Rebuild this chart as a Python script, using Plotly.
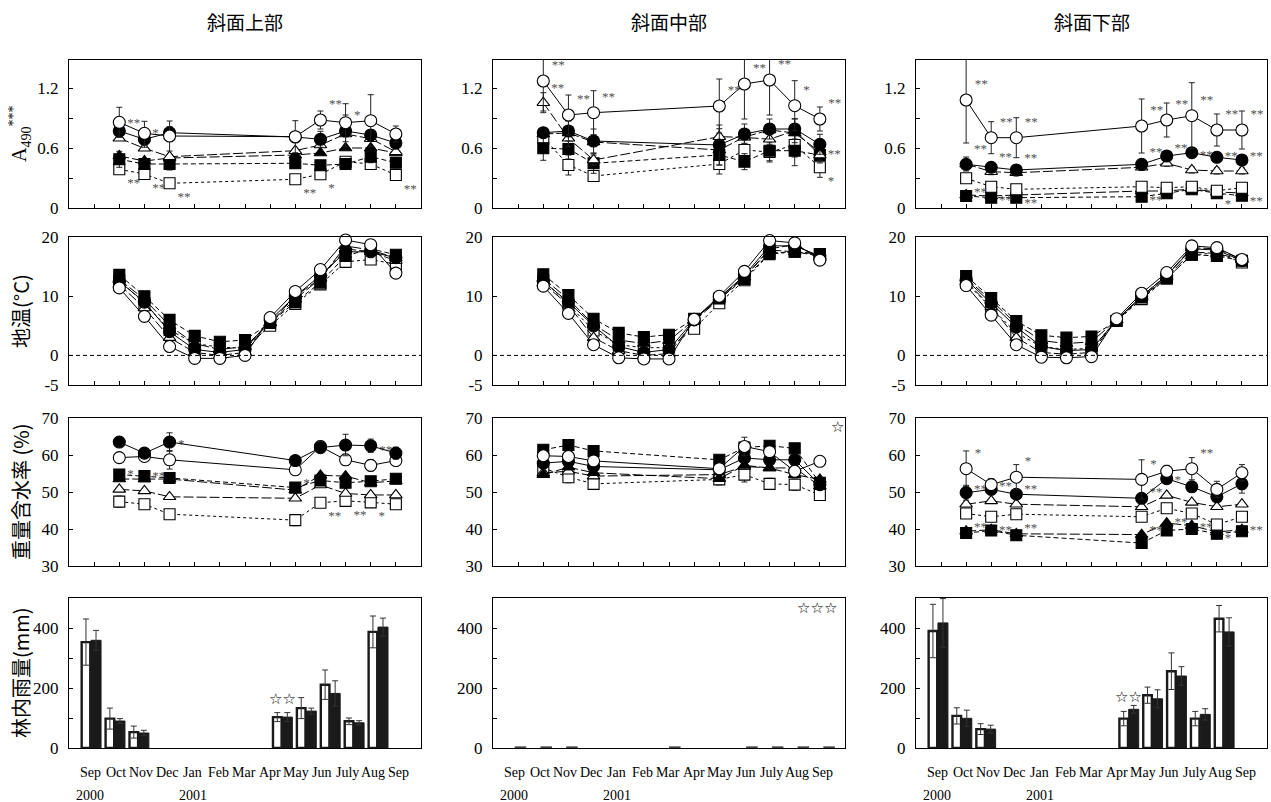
import plotly.graph_objects as go

# ---------------------------------------------------------------- data
COL_TITLES = ["斜面上部", "斜面中部", "斜面下部"]
ROW_TITLES = ["A<sub>490</sub><sup>***</sup>", "地温(°C)", "重量含水率 (%)", "林内雨量(mm)"]
SAMPLE_MONTHS = ["Sep", "Oct", "Nov", "Apr", "May", "Jun", "Jul", "Aug"]
TEMP_MONTHS = ["Sep", "Oct", "Nov", "Dec", "Jan", "Feb", "Mar", "Apr", "May", "Jun", "Jul", "Aug"]
AXIS_MONTHS = ["Sep", "Oct", "Nov", "Dec", "Jan", "Feb", "Mar", "Apr", "May", "Jun", "July", "Aug", "Sep"]
YEAR_LABELS = ["2000", "2001"]

# series keys: oc open circle, fc filled circle, ot open triangle,
#              ft filled triangle, os open square, fs filled square
# --- A490
a490_upper = {
    "os": [0.387, 0.34, 0.247, 0.287, 0.337, 0.463, 0.44, 0.33],
    "fs": [0.487, 0.44, 0.44, 0.447, 0.427, 0.44, 0.513, 0.453],
    "ft": [0.52, 0.47, 0.50, 0.53, 0.55, 0.60, 0.60, 0.55],
    "ot": [0.697, 0.597, 0.513, 0.573, 0.63, 0.74, 0.693, 0.563],
    "fc": [0.77, 0.687, 0.753, 0.71, 0.687, 0.77, 0.73, 0.65],
    "oc": [0.857, 0.747, 0.72, 0.713, 0.88, 0.853, 0.873, 0.74],
}
a490_upper_err = {
    "oc": [0.15, 0.12, 0.15, 0.16, 0.09, 0.19, 0.26, 0.08],
    "fc": [0.06, 0.08, 0.06, 0.05, 0.08, 0.16, 0.05, 0.06],
    "fs": [0.08, 0.05, 0.06, 0.04, 0.04, 0.04, 0.06, 0.05],
}
a490_upper_sig = {
    "oc": ["", "", "", "", "**", "", "", ""],
    "fc": ["", "", "", "", "", "*", "", ""],
    "ot": ["**", "*", "", "", "", "", "", ""],
    "os": ["**", "**", "**", "**", "*", "", "", "**"],
}
a490_middle = {
    "os": [0.703, 0.43, 0.32, 0.44, 0.58, 0.56, 0.63, 0.407],
    "fs": [0.597, 0.59, 0.447, 0.53, 0.463, 0.573, 0.573, 0.53],
    "ft": [0.74, 0.75, 0.66, 0.58, 0.71, 0.78, 0.75, 0.56],
    "ot": [1.053, 0.697, 0.48, 0.713, 0.707, 0.687, 0.773, 0.53],
    "fc": [0.753, 0.77, 0.67, 0.63, 0.74, 0.79, 0.79, 0.637],
    "oc": [1.27, 0.93, 0.953, 1.02, 1.24, 1.28, 1.023, 0.89],
}
a490_middle_err = {
    "oc": [0.30, 0.20, 0.22, 0.27, 0.35, 0.35, 0.25, 0.12],
    "ot": [0.10, 0.08, 0.05, 0.08, 0.06, 0.05, 0.12, 0.06],
    "fc": [0.05, 0.10, 0.12, 0.20, 0.10, 0.10, 0.10, 0.10],
    "fs": [0.12, 0.10, 0.10, 0.10, 0.08, 0.10, 0.15, 0.08],
    "os": [0.10, 0.10, 0.05, 0.10, 0.12, 0.10, 0.12, 0.10],
}
a490_middle_sig = {
    "oc": ["**", "**", "**", "**", "**", "**", "*", "**"],
    "ot": ["**", "", "", "", "", "", "", ""],
    "fs": ["", "", "", "", "", "", "", "**"],
    "os": ["", "", "", "", "", "", "", "*"],
}
a490_lower = {
    "fs": [0.12, 0.103, 0.103, 0.113, 0.147, 0.187, 0.147, 0.123],
    "ft": [0.13, 0.12, 0.13, 0.17, 0.17, 0.19, 0.16, 0.15],
    "os": [0.297, 0.213, 0.187, 0.213, 0.203, 0.213, 0.173, 0.203],
    "ot": [0.44, 0.363, 0.353, 0.407, 0.447, 0.38, 0.37, 0.37],
    "fc": [0.437, 0.407, 0.38, 0.437, 0.52, 0.553, 0.507, 0.48],
    "oc": [1.08, 0.703, 0.703, 0.82, 0.88, 0.923, 0.78, 0.78],
}
a490_lower_err = {
    "oc": [0.43, 0.16, 0.20, 0.27, 0.17, 0.33, 0.16, 0.19],
    "ot": [0.07, 0.03, 0.03, 0.03, 0.03, 0.03, 0.03, 0.03],
}
a490_lower_sig = {
    "oc": ["**", "**", "**", "**", "**", "**", "**", "**"],
    "ot": ["**", "**", "**", "**", "**", "**", "**", "**"],
    "os": ["**", "**", "**", "**", "", "", "*", "**"],
}

# --- soil temperature (°C), monthly Sep 2000 - Aug 2001
temp_upper = {
    "os": [12.7, 8.8, 4.3, 2.0, 1.4, 1.2, 5.0, 8.7, 12.0, 15.8, 16.2, 15.4],
    "ot": [12.0, 8.0, 3.0, 0.5, 0.0, 0.5, 5.5, 10.0, 13.0, 18.0, 17.5, 16.0],
    "fs": [13.6, 10.0, 6.0, 3.3, 2.3, 2.6, 5.5, 9.0, 12.3, 16.8, 18.0, 17.0],
    "ft": [12.8, 9.5, 5.0, 2.0, 1.0, 1.5, 5.5, 9.5, 13.0, 18.5, 17.8, 16.5],
    "fc": [12.5, 9.0, 4.0, 1.0, 0.5, 1.0, 6.0, 10.0, 13.5, 17.5, 17.5, 16.5],
    "oc": [11.4, 6.6, 1.5, -0.5, -0.5, 0.0, 6.4, 10.8, 14.5, 19.5, 18.7, 13.9],
}
temp_middle = {
    "os": [12.7, 8.6, 4.2, 1.8, 1.3, 1.3, 4.5, 8.8, 12.7, 17.1, 17.5, 17.1],
    "ot": [12.2, 8.5, 3.0, 0.8, 0.0, 0.3, 5.8, 9.5, 13.2, 18.0, 18.7, 16.5],
    "fs": [13.7, 10.2, 6.2, 3.8, 3.1, 3.5, 6.2, 9.6, 12.9, 17.3, 17.5, 17.1],
    "ft": [13.0, 9.5, 5.2, 2.6, 2.0, 2.5, 6.0, 9.8, 13.2, 17.8, 17.5, 16.8],
    "fc": [12.5, 9.0, 5.0, 1.5, 0.5, 1.0, 6.0, 9.8, 13.5, 18.5, 18.5, 16.8],
    "oc": [11.7, 7.1, 1.8, -0.4, -0.6, -0.6, 6.1, 10.0, 14.2, 19.4, 19.0, 16.1],
}
temp_lower = {
    "os": [12.3, 8.0, 3.8, 1.5, 1.0, 1.2, 5.8, 9.5, 13.0, 17.0, 17.3, 15.7],
    "ot": [12.5, 8.2, 3.0, 0.5, 0.2, 0.5, 6.0, 10.0, 13.5, 18.2, 18.0, 16.2],
    "fs": [13.4, 9.7, 5.8, 3.4, 3.0, 3.2, 5.8, 9.8, 13.0, 17.0, 16.8, 16.0],
    "ft": [13.0, 9.3, 5.3, 2.5, 2.0, 2.3, 6.0, 9.8, 13.2, 17.5, 17.2, 16.2],
    "fc": [12.8, 8.8, 4.8, 1.5, 0.8, 1.0, 6.0, 10.0, 13.5, 18.0, 17.8, 16.0],
    "oc": [11.8, 6.8, 1.8, -0.3, -0.4, -0.2, 6.2, 10.5, 14.0, 18.5, 18.2, 16.2],
}

# --- gravimetric water content (%)
water_upper = {
    "os": [47.4, 46.7, 44.0, 42.4, 47.1, 47.6, 47.2, 46.7],
    "ot": [50.7, 50.3, 48.7, 48.3, 51.9, 49.6, 49.2, 49.2],
    "ft": [53.5, 53.5, 53.5, 50.5, 54.5, 54.3, 52.5, 53.0],
    "fs": [54.7, 54.3, 53.8, 51.2, 53.1, 52.5, 52.9, 53.6],
    "oc": [59.3, 59.6, 58.7, 56.0, 62.3, 58.7, 57.2, 58.5],
    "fc": [63.5, 60.5, 63.5, 58.5, 62.0, 62.7, 62.5, 60.5],
}
water_upper_err = {
    "os": [1.5, 1.0, 1.0, 1.5, 1.0, 1.0, 1.0, 1.0],
    "oc": [1.0, 1.0, 2.5, 1.0, 1.5, 1.5, 1.5, 1.0],
    "fc": [0.5, 1.0, 2.5, 0.5, 1.0, 2.9, 1.8, 1.6],
}
water_upper_sig = {
    "oc": ["", "", "*", "", "", "", "**", ""],
    "ot": ["*", "**", "", "*", "", "", "", ""],
    "os": ["", "", "", "", "**", "**", "*", ""],
}
water_middle = {
    "os": [56.5, 54.0, 52.2, 53.4, 54.7, 52.2, 52.0, 49.2],
    "ot": [55.2, 55.6, 54.3, 54.7, 56.9, 56.5, 56.5, 51.6],
    "ft": [54.7, 56.7, 55.2, 53.6, 57.2, 56.5, 54.7, 53.4],
    "fc": [57.8, 58.3, 56.9, 56.0, 59.2, 58.7, 58.7, 52.0],
    "fs": [61.4, 62.7, 61.1, 58.7, 62.0, 62.5, 61.8, 52.5],
    "oc": [59.8, 59.6, 58.4, 56.3, 62.3, 60.9, 55.6, 58.3],
}
water_middle_err = {
    "os": [1.2, 1.5, 1.5, 1.5, 2.0, 1.5, 1.5, 1.5],
    "oc": [0.5, 0.5, 0.5, 0.5, 2.5, 0.5, 0.5, 0.5],
}
water_lower = {
    "fs": [38.9, 39.6, 38.3, 36.2, 39.6, 40.0, 38.7, 39.4],
    "ft": [39.4, 39.8, 38.7, 38.5, 41.6, 40.9, 39.2, 39.8],
    "os": [44.2, 43.3, 44.0, 43.3, 45.6, 44.2, 41.2, 43.3],
    "ot": [46.7, 47.6, 46.7, 46.0, 49.1, 47.2, 46.0, 46.7],
    "fc": [49.8, 50.7, 49.4, 48.3, 53.6, 51.4, 48.7, 52.2],
    "oc": [56.3, 52.0, 54.0, 53.4, 55.6, 56.3, 50.7, 55.2],
}
water_lower_err = {
    "oc": [4.8, 1.6, 3.4, 5.3, 1.6, 3.0, 2.2, 2.2],
    "fc": [2.0, 1.0, 1.0, 1.0, 1.0, 1.0, 1.0, 2.5],
}
water_lower_sig = {
    "oc": ["*", "", "*", "*", "", "**", "", ""],
    "ot": ["**", "**", "**", "**", "*", "", "", ""],
    "os": ["**", "**", "**", "**", "**", "**", "*", "**"],
}

# --- throughfall (mm): open bars / filled bars
rain_upper_open = [353, 98, 53, 103, 133, 211, 89, 387]
rain_upper_open_err = [77, 35, 20, 15, 35, 49, 11, 53]
rain_upper_filled = [359, 90, 50, 103, 123, 182, 84, 403]
rain_upper_filled_err = [33, 8, 9, 15, 10, 42, 7, 30]
rain_lower_open = [390, 107, 63, 98, 176, 256, 98, 431]
rain_lower_open_err = [89, 27, 18, 24, 27, 61, 24, 44]
rain_lower_filled = [417, 99, 63, 129, 164, 240, 112, 387]
rain_lower_filled_err = [81, 27, 13, 13, 30, 31, 19, 47]
rain_middle_months = ["Sep", "Oct", "Nov", "Mar", "Jun", "July", "Aug", "Sep"]
rain_middle_values = [3, 3, 3, 3, 3, 3, 3, 3]

# ---------------------------------------------------------------- layout helpers
W, H = 1271, 802
COL_PX = [(69, 421), (493, 845), (916, 1267)]
ROW_PX = [(60, 208), (237, 385), (418, 566), (598, 748)]
CJK = "Noto Sans CJK JP"
SERIF = "Liberation Serif"
SIG_FONT = dict(family=SERIF, size=13, color="#505050")

STYLE = {
    "oc": dict(symbol="circle", color="white", size=12, dash="solid", pos="top right"),
    "fc": dict(symbol="circle", color="black", size=12, dash="solid", pos="top right"),
    "ot": dict(symbol="triangle-up", color="white", size=11, dash="10px,3px", pos="top right"),
    "ft": dict(symbol="triangle-up", color="black", size=11, dash="10px,3px", pos="middle right"),
    "os": dict(symbol="square", color="white", size=11, dash="3px,3px", pos="bottom right"),
    "fs": dict(symbol="square", color="black", size=11, dash="5px,3px", pos="middle right"),
}


def line_pos(month):
    # tick index on the 0..14 month axis (Sep 2000 sits on tick 2)
    return TEMP_MONTHS.index(month) + 2


def rain_slot(month):
    i = TEMP_MONTHS.index(month)
    return i + (1 if i >= 7 else 0)


def ax_id(n):
    return ("x" if n == 1 else f"x{n}"), ("y" if n == 1 else f"y{n}")


fig = go.Figure()

line_panels = [
    [(a490_upper, a490_upper_err, a490_upper_sig),
     (a490_middle, a490_middle_err, a490_middle_sig),
     (a490_lower, a490_lower_err, a490_lower_sig)],
    [(temp_upper, {}, {}), (temp_middle, {}, {}), (temp_lower, {}, {})],
    [(water_upper, water_upper_err, water_upper_sig),
     (water_middle, water_middle_err, {}),
     (water_lower, water_lower_err, water_lower_sig)],
]

for r, row in enumerate(line_panels):
    months = TEMP_MONTHS if r == 1 else SAMPLE_MONTHS
    xs = [line_pos(m) for m in months]
    for c, (vals, errs, sigs) in enumerate(row):
        xa, ya = ax_id(r * 3 + c + 1)
        for key, ys in vals.items():
            st = STYLE[key]
            sig = sigs.get(key)
            kw = {}
            if sig:
                kw = dict(text=sig, textposition=st["pos"], textfont=SIG_FONT)
            if key in errs:
                kw["error_y"] = dict(type="data", array=errs[key], visible=True,
                                     color="#222", thickness=1, width=3)
            fig.add_trace(go.Scatter(
                x=xs, y=ys, xaxis=xa, yaxis=ya,
                mode="lines+markers+text" if sig else "lines+markers",
                line=dict(color="black", width=1, dash=st["dash"]),
                marker=dict(symbol=st["symbol"], size=st["size"], color=st["color"],
                            line=dict(color="black", width=1.1)),
                showlegend=False, hoverinfo="skip", cliponaxis=False, **kw,
            ))

# throughfall bars
rain_sets = {0: (rain_upper_open, rain_upper_open_err, rain_upper_filled, rain_upper_filled_err),
             2: (rain_lower_open, rain_lower_open_err, rain_lower_filled, rain_lower_filled_err)}
slots = [rain_slot(m) for m in SAMPLE_MONTHS]
for c, (ov, oe, fv, fe) in rain_sets.items():
    xa, ya = ax_id(9 + c + 1)
    fig.add_trace(go.Bar(x=slots, y=ov, xaxis=xa, yaxis=ya, width=0.36, offset=-0.39,
                         marker=dict(color="white", line=dict(color="#1a1a1a", width=2.4)),
                         error_y=dict(type="data", array=oe, color="#333", thickness=1, width=3),
                         showlegend=False, hoverinfo="skip"))
    fig.add_trace(go.Bar(x=slots, y=fv, xaxis=xa, yaxis=ya, width=0.42, offset=0.0,
                         marker=dict(color="#1a1a1a", line=dict(color="#1a1a1a", width=1)),
                         error_y=dict(type="data", array=fe, color="#333", thickness=1, width=3),
                         showlegend=False, hoverinfo="skip"))

# middle column: only near-zero records; placed under their month labels
LBL_OFF, LBL_STEP, SLOT0, SLOT_W = 21.0, 25.7, 23.0, 23.9
used = []
mid_x = []
for m in rain_middle_months:
    idx = [i for i, a in enumerate(AXIS_MONTHS) if a == m and i not in used][0]
    used.append(idx)
    mid_x.append((LBL_OFF + LBL_STEP * idx + 7.5 - SLOT0) / SLOT_W)
xa, ya = ax_id(11)
fig.add_trace(go.Bar(x=mid_x, y=rain_middle_values, xaxis=xa, yaxis=ya, width=0.42,
                     marker=dict(color="#444", line=dict(color="#444", width=1.5)),
                     showlegend=False, hoverinfo="skip"))

# ---------------------------------------------------------------- axes
layout = dict(
    template="none",
    width=W, height=H, margin=dict(l=0, r=0, t=0, b=0, pad=0), autosize=False,
    paper_bgcolor="white", plot_bgcolor="white", showlegend=False, barmode="overlay",
    font=dict(family=SERIF, size=17, color="black"),
)
Y_SPECS = [
    dict(range=[0, 1.48], tickvals=[0, 0.6, 1.2], ticktext=["0", "0.6", "1.2"], minor_vals=[0.3, 0.9]),
    dict(range=[-5, 20], tickvals=[-5, 0, 10, 20], ticktext=["-5", "0", "10", "20"], minor_vals=[]),
    dict(range=[30, 70], tickvals=[30, 40, 50, 60, 70], ticktext=["30", "40", "50", "60", "70"],
         minor_vals=[]),
    dict(range=[0, 500], tickvals=[0, 200, 400], ticktext=["0", "200", "400"], minor_vals=[100, 300]),
]
for r in range(4):
    for c in range(3):
        n = r * 3 + c + 1
        xa, ya = ax_id(n)
        xname = "xaxis" if n == 1 else f"xaxis{n}"
        yname = "yaxis" if n == 1 else f"yaxis{n}"
        x0, x1 = COL_PX[c]
        y0, y1 = ROW_PX[r]
        xd = [x0 / W, x1 / W]
        yd = [1 - y1 / H, 1 - y0 / H]
        common = dict(showline=True, linecolor="black", linewidth=1, mirror=True,
                      showgrid=False, zeroline=False, fixedrange=True, automargin=False)
        if r < 3:
            layout[xname] = dict(domain=xd, anchor=ya, range=[0, 14], tickvals=list(range(1, 14)),
                                 ticks="inside", ticklen=4, tickcolor="black",
                                 showticklabels=False, **common)
        else:
            layout[xname] = dict(domain=xd, anchor=ya, range=[-0.92, 13.8], ticks="",
                                 showticklabels=False, **common)
        spec = dict(Y_SPECS[r])
        mv = spec.pop("minor_vals")
        yax = dict(domain=yd, anchor=xa, ticks="inside", ticklen=4, tickcolor="black",
                   ticklabelstandoff=6, tickfont=dict(family=SERIF, size=17),
                   tickmode="array", **spec, **common)
        if mv:
            yax["minor"] = dict(tickmode="array", tickvals=mv, ticks="inside", ticklen=4,
                                tickcolor="black", showgrid=False)
        layout[yname] = yax

fig.update_layout(**layout)

# zero line in temperature panels
for c in range(3):
    xa, ya = ax_id(3 + c + 1)
    fig.add_shape(type="line", xref=f"{xa} domain", yref=ya, x0=0, x1=1, y0=0, y1=0,
                  line=dict(color="black", width=1, dash="4px,3px"))

# ---------------------------------------------------------------- text
for c, t in enumerate(COL_TITLES):
    x0, x1 = COL_PX[c]
    fig.add_annotation(text=t, xref="paper", yref="paper", x=(x0 + x1) / 2 / W, y=1 - 22 / H,
                       showarrow=False, font=dict(family=CJK, size=19, color="black"),
                       xanchor="center", yanchor="middle")
for r, t in enumerate(ROW_TITLES):
    y0, y1 = ROW_PX[r]
    fam = SERIF if r == 0 else CJK
    fig.add_annotation(text=t, xref="paper", yref="paper", x=20 / W, y=1 - (y0 + y1) / 2 / H,
                       showarrow=False, textangle=-90, font=dict(family=fam, size=20, color="black"),
                       xanchor="center", yanchor="middle")
for c in range(3):
    x0 = COL_PX[c][0]
    for i, m in enumerate(AXIS_MONTHS):
        fig.add_annotation(text=m, xref="paper", yref="paper",
                           x=(x0 + LBL_OFF + LBL_STEP * i) / W, y=1 - 772 / H,
                           showarrow=False, font=dict(family=SERIF, size=14, color="black"),
                           xanchor="center", yanchor="middle")
    for j, yl in enumerate(YEAR_LABELS):
        fig.add_annotation(text=yl, xref="paper", yref="paper",
                           x=(x0 + LBL_OFF + LBL_STEP * 4 * j) / W, y=1 - 795 / H,
                           showarrow=False, font=dict(family=SERIF, size=14, color="black"),
                           xanchor="center", yanchor="middle")

# stars
STAR_FONT = dict(family="DejaVu Sans", size=15, color="black")
for c, yv in ((0, 165), (2, 170)):
    xa, ya = ax_id(10 + c)
    fig.add_annotation(text="☆☆", xref=xa, yref=ya, x=rain_slot("Apr"), y=yv,
                       showarrow=False, font=STAR_FONT)
xa, ya = ax_id(11)
fig.add_annotation(text="☆☆☆", xref=xa, yref=ya, x=12.64, y=467, showarrow=False, font=STAR_FONT)
xa, ya = ax_id(8)
fig.add_annotation(text="☆", xref=xa, yref=ya, x=13.72, y=67.6, showarrow=False, font=STAR_FONT)

fig.write_html("out.html")
